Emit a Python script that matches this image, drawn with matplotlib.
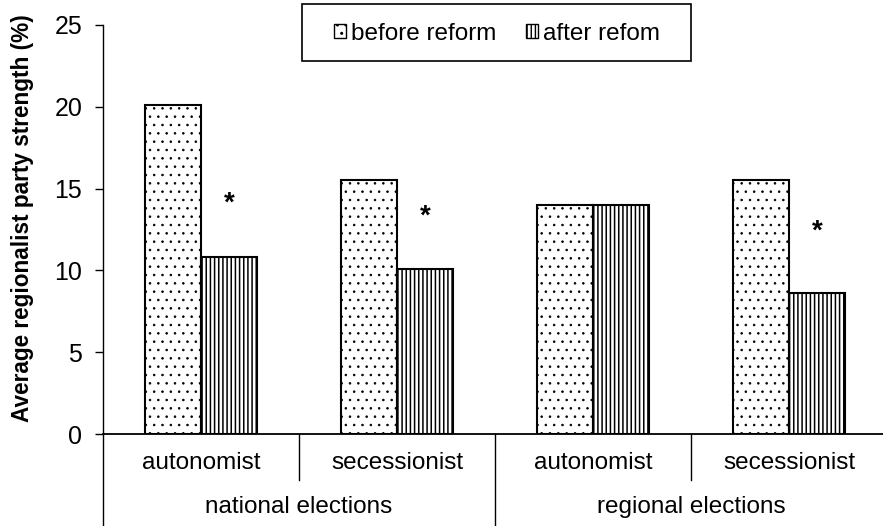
import matplotlib
matplotlib.use('Agg')
import matplotlib.pyplot as plt
import matplotlib.patches as mpatches
import matplotlib.transforms as mtransforms
import numpy as np

plt.rcParams['font.family'] = ['Liberation Sans', 'DejaVu Sans']

# data
categories = ['autonomist', 'secessionist', 'autonomist', 'secessionist']
groups = ['national elections', 'regional elections']
before = [20.1, 15.5, 14.0, 15.5]
after = [10.8, 10.1, 14.0, 8.6]
# significance stars (height of the asterisk)
star_y = [14.1, 13.3, np.nan, 12.4]
legend_labels = ['before reform', 'after refom']

W, H = 883, 526
fig = plt.figure(figsize=(W / 100, H / 100), dpi=100)
ax = fig.add_axes([103 / W, (H - 434) / H, 784 / W, 409 / H])

x = np.arange(len(categories)) + 0.5
bw = 0.287
with plt.rc_context({'hatch.linewidth': 0.6}):
    ax.bar(x - bw / 2, before, bw, color='white', edgecolor='black',
           linewidth=1.5, hatch='..')
    h1 = mpatches.Patch(facecolor='white', edgecolor='black', hatch='..')
with plt.rc_context({'hatch.linewidth': 1.1}):
    ax.bar(x + bw / 2, after, bw, color='white', edgecolor='black',
           linewidth=1.5, hatch='||||')
    h2 = mpatches.Patch(facecolor='white', edgecolor='black', hatch='||||')

for xi, sy in zip(x, star_y):
    if not np.isnan(sy):
        ax.text(xi + bw / 2, sy, '*', ha='center', va='center',
                fontsize=20, fontweight='bold')

ax.set_xlim(0, 4)
ax.set_ylim(0, 25)
ax.set_yticks(range(0, 26, 5))
ax.tick_params(axis='y', direction='out', length=6, width=1, pad=9,
               labelsize=18)
ax.set_xticks([])
ax.spines['top'].set_visible(False)
ax.spines['right'].set_visible(False)
ax.spines['left'].set_linewidth(1)
ax.spines['bottom'].set_linewidth(1.3)
ax.set_ylabel('Average regionalist party strength (%)', fontsize=16.3,
              fontweight='bold')
ax.yaxis.set_label_coords(-0.088, 0.527)

# two-level category axis
trans = mtransforms.blended_transform_factory(ax.transData, ax.transAxes)
for i in range(5):
    bottom = -0.24 if i % 2 == 0 else -0.112
    ax.plot([i, i], [0, bottom], color='black', lw=1, transform=trans,
            clip_on=False)
for xi, c in zip(x, categories):
    ax.text(xi, -0.07, c, transform=trans, ha='center', va='center',
            fontsize=17.5)
for gi, g in enumerate(groups):
    ax.text(gi * 2 + 1, -0.178, g, transform=trans, ha='center',
            va='center', fontsize=17.5)

# legend
fig.legend([h1, h2], legend_labels, loc='center', ncol=2, frameon=False,
           bbox_to_anchor=(497 / W, 1 - 34 / H), fontsize=17.5,
           handlelength=0.5, handleheight=0.5, handletextpad=0.2,
           columnspacing=1.2)
fig.patches.append(mpatches.Rectangle((302 / W, 1 - 61 / H), 389 / W, 57 / H,
                                      transform=fig.transFigure,
                                      facecolor='none', edgecolor='black',
                                      linewidth=1.2))

fig.savefig('out.png', dpi=100)
